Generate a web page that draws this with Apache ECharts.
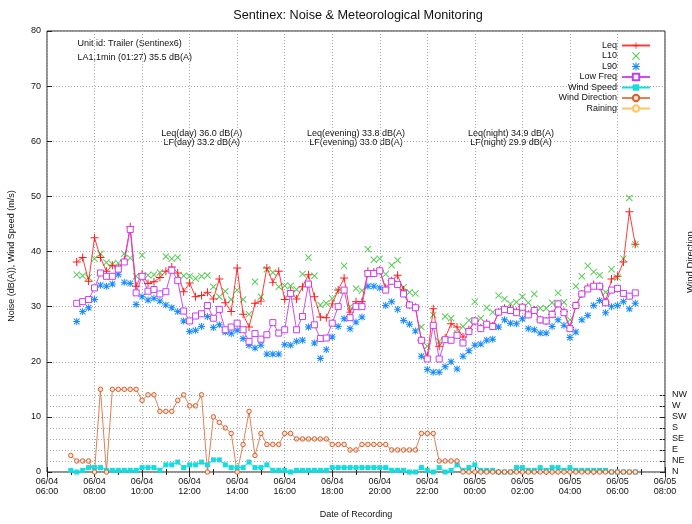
<!DOCTYPE html>
<html><head><meta charset="utf-8">
<script src="https://cdn.jsdelivr.net/npm/echarts@6/dist/echarts.min.js"></script>
<style>html,body{margin:0;padding:0;background:#fff}#c{width:692px;height:524px}</style>
</head><body><div id="c"></div>
<script>
// ---- time base (hours after 06/04 00:00) ----
const NOISE_START = 7.25;   // 06/04 07:15
const WIND_START = 7.0;     // 06/04 07:00
const STEP = 0.25;          // 15-minute records
const X_MIN = 6, X_MAX = 32, X_STEP = 2;

// ---- noise levels dB(A), 15-minute records ----
const leq = [38.1,38.9,34.6,42.5,38.9,36.4,37.5,37.0,38.4,44.5,
  33.7,35.9,34.2,34.5,35.3,36.4,37.2,36.1,32.7,34.3,
  31.8,32.0,32.6,31.4,35.0,30.7,29.1,37.0,28.6,26.3,
  30.6,31.0,37.0,34.4,36.4,31.3,32.9,31.4,33.6,35.8,
  31.8,28.1,28.0,30.5,33.0,35.2,29.0,30.9,30.9,36.4,
  36.3,36.6,33.4,34.7,35.7,33.0,30.3,29.9,23.9,20.8,
  29.6,22.8,24.3,26.9,26.3,24.5,25.8,27.4,26.1,27.0,
  26.5,29.0,29.7,29.6,29.1,30.0,28.6,29.4,27.6,27.4,
  28.6,30.5,29.1,26.2,30.2,32.3,33.5,34.0,33.7,30.8,
  35.0,35.5,38.1,47.2,41.3];
const l10 = [35.8,35.6,35.3,38.7,39.6,38.0,37.7,37.9,39.6,38.8,
  35.5,39.3,35.7,35.8,36.2,39.1,38.7,38.9,35.6,35.5,
  35.1,35.5,35.7,33.6,31.8,32.8,31.3,33.0,31.3,28.6,
  34.5,31.8,36.8,36.2,33.6,33.8,33.8,33.1,35.9,38.9,
  35.6,30.3,30.6,31.5,32.9,37.4,30.0,33.3,32.9,40.4,
  38.5,38.7,35.9,37.5,38.4,33.5,32.6,32.4,26.3,22.8,
  28.5,23.7,28.2,27.9,25.2,26.4,27.5,30.9,27.9,29.8,
  29.0,32.0,31.4,30.5,30.8,31.8,30.7,32.3,29.7,29.7,
  30.7,32.5,30.8,27.6,33.7,35.5,37.4,36.3,35.7,32.6,
  36.8,35.3,38.7,49.7,41.3];
const l90 = [27.3,29.1,29.8,31.3,33.9,33.7,34.1,35.8,34.4,34.2,
  30.4,31.8,31.2,31.5,31.0,30.3,29.8,29.1,27.4,25.5,
  25.7,26.4,28.2,26.2,26.7,25.4,25.1,25.7,24.2,23.0,
  22.5,23.0,21.4,21.4,21.4,23.1,23.0,23.7,23.9,26.3,
  23.4,20.6,22.2,24.5,26.4,27.8,26.0,27.2,28.1,33.7,
  33.7,33.4,30.2,30.9,29.5,27.5,26.8,25.6,21.0,18.6,
  18.1,18.1,19.1,20.0,18.7,21.0,22.0,23.0,23.2,23.9,
  24.1,26.3,27.6,27.0,26.9,27.8,26.0,25.8,25.2,25.2,
  26.4,27.6,26.6,24.4,25.4,27.6,28.4,30.2,31.1,28.9,
  30.0,30.2,30.9,29.6,30.6];
const lowFreq = [30.6,30.9,31.3,33.4,36.1,35.5,35.5,36.8,38.1,44.0,
  32.5,35.5,32.8,33.1,32.3,32.7,36.6,34.7,29.2,27.4,
  28.3,28.7,30.2,27.9,29.5,25.8,26.3,27.0,25.8,23.7,
  25.1,24.1,24.9,27.1,25.2,25.8,32.4,25.8,28.2,34.1,
  26.7,24.2,24.3,27.0,30.0,33.0,28.0,30.0,30.0,36.0,
  36.0,36.5,33.0,34.6,34.0,32.3,30.3,29.8,23.9,20.5,
  26.6,20.5,24.0,23.9,24.8,23.4,25.5,27.4,26.0,26.8,
  26.4,29.0,29.5,29.3,28.9,29.9,28.5,29.3,27.6,27.4,
  28.6,30.5,28.9,26.0,30.2,32.3,33.2,33.7,33.7,30.7,
  33.0,33.3,32.4,31.9,32.5];

// ---- meteorology ----
const windSpeed = [0.3,0,0.3,0.8,0.8,0.8,0.3,0.3,0.3,0.3,
  0.3,0.3,0.8,0.8,0.8,0.3,1.3,1.3,1.8,0.8,
  1.3,1.3,1.8,1.3,2.2,2.2,1.3,0.8,0.8,0.8,
  1.8,0.8,0.8,1.3,0.3,0.3,0.3,0,0.3,0.3,
  0.3,0.3,0.3,0.3,0.8,0.8,0.8,0.8,0.8,0.8,
  0.8,0.8,0.8,0.8,0.3,0.3,0.3,0,0,0.8,
  0.3,0,0.8,0,0.3,1.3,0.3,0.8,1.3,0.3,
  0.3,0.3,0,0,0,0.8,0.8,0.3,0.3,0.8,
  0.3,0.8,0.8,0.3,0.8,0.3,0.3,0.3,0.3,0.3,
  0.3,0,0,0,0,0];
// 16-point compass index (0 = N, 2 = NE, ... 14 = NW, 15 = NNW)
const windDir = [3,2,2,2,0,15,0,15,15,15,
  15,15,13,14,14,11,11,11,13,14,
  12,12,14,0,10,9,8,7,0,5,
  11,3,7,5,5,5,7,7,6,6,
  6,6,6,6,5,5,5,4,4,5,
  5,5,5,5,4,4,4,4,4,7,
  7,7,2,2,2,2,0,0,0,0,
  0,0,0,0,0,0,0,0,0,0,
  0,0,0,0,0,0,0,0,0,0,
  0,0,0,0,0,0];
const raining = [];
const dirLabels = ['N','NE','E','SE','S','SW','W','NW'];
const dirTicks = [0,2,4,6,8,10,12,14];

const FONT = '"Liberation Sans", Arial, sans-serif';
const TXT = '#111';
const GRIDC = '#a8a8a8';

function series(start, arr){ return arr.map((v,i)=>[start + i*STEP, v]); }
function pad(n){ return (n<10?'0':'')+n; }
function xLabel(h){ const d = 4 + Math.floor(h/24); const hh = h - 24*Math.floor(h/24); return '06/' + pad(d) + '\n' + pad(hh) + ':00'; }

const PLUS = 'path://M4.4,0H5.6V4.4H10V5.6H5.6V10H4.4V5.6H0V4.4H4.4Z';
const CROSS = 'path://M0,1L1,0L5,4L9,0L10,1L6,5L10,9L9,10L5,6L1,10L0,9L4,5Z';
const STAR = 'path://M4.3,0H5.7V4.3H10V5.7H5.7V10H4.3V5.7H0V4.3H4.3Z M0.5,1.5L1.5,0.5L5,4L8.5,0.5L9.5,1.5L6,5L9.5,8.5L8.5,9.5L5,6L1.5,9.5L0.5,8.5L4,5Z';

const C = {leq:'#ff1a1a', l10:'#55cc55', l90:'#1a8cff', lf:'#c83cf0', ws:'#14dce0', wd:'#d8602c', rain:'#ffc466'};

const chart = echarts.init(document.getElementById('c'), null, {renderer:'canvas'});
chart.setOption({
  animation: false,
  backgroundColor: '#fff',
  textStyle: {fontFamily: FONT},
  grid: {left: 47, right: 27, top: 31, bottom: 47, show: true, borderColor: '#222', borderWidth: 1, containLabel: false},
  legend: {
    orient: 'vertical', right: 36, top: 36, align: 'right', selectedMode: false,
    itemWidth: 28, itemHeight: 8, itemGap: 1.5, symbolKeepAspect: true,
    textStyle: {fontSize: 9, color: TXT, lineHeight: 8, fontFamily: FONT},
    data: ['Leq','L10','L90','Low Freq','Wind Speed','Wind Direction','Raining']
  },
  xAxis: [{
    type: 'value', min: X_MIN, max: X_MAX, interval: X_STEP, position: 'bottom',
    axisLine: {show: false},
    axisTick: {inside: true, length: 5, lineStyle: {color: '#222'}},
    minorTick: {show: true, splitNumber: 2, length: 3, lineStyle: {color: '#222'}},
    axisLabel: {formatter: xLabel, fontSize: 9, color: TXT, lineHeight: 10, margin: 5, fontFamily: FONT},
    splitLine: {show: true, lineStyle: {type: [1,2], color: GRIDC, width: 1}},
    name: 'Date of Recording', nameLocation: 'middle', nameGap: 38,
    nameTextStyle: {fontSize: 9, color: TXT, fontFamily: FONT}
  },{
    type: 'value', min: X_MIN, max: X_MAX, interval: X_STEP, position: 'top',
    axisLine: {show: false}, axisLabel: {show: false}, splitLine: {show: false},
    axisTick: {inside: true, length: 5, lineStyle: {color: '#222'}},
    minorTick: {show: true, splitNumber: 2, length: 3, lineStyle: {color: '#222'}}
  }],
  yAxis: [{
    type: 'value', min: 0, max: 80, interval: 10, position: 'left',
    axisLine: {show: false},
    axisTick: {inside: true, length: 5, lineStyle: {color: '#222'}},
    axisLabel: {fontSize: 9, color: TXT, margin: 6, fontFamily: FONT},
    splitLine: {show: true, lineStyle: {type: [1,2], color: GRIDC, width: 1}}
  },{
    type: 'value', min: 0, max: 80, interval: 2, position: 'right',
    axisLine: {show: false},
    axisTick: {inside: true, length: 5, customValues: dirTicks, lineStyle: {color: '#222'}},
    axisLabel: {customValues: dirTicks, formatter: v => dirLabels[Math.round(v/2)] || '', fontSize: 9, color: TXT, margin: 7, fontFamily: FONT},
    splitLine: {show: false}
  }],
  graphic: [
    {type:'text', x: 358, y: 15, style:{text:'Sentinex: Noise & Meteorological Monitoring', fontSize: 12.7, fontFamily: FONT, fill: TXT, align:'center', verticalAlign:'middle'}},
    {type:'text', x: 77.5, y: 44, style:{text:'Unit id: Trailer (Sentinex6)', fontSize: 9, fontFamily: FONT, fill: TXT, align:'left', verticalAlign:'middle'}},
    {type:'text', x: 77.5, y: 58, style:{text:'LA1,1min (01:27) 35.5 dB(A)', fontSize: 9, fontFamily: FONT, fill: TXT, align:'left', verticalAlign:'middle'}},
    {type:'text', x: 201.7, y: 133.5, style:{text:'Leq(day) 36.0 dB(A)', fontSize: 9, fontFamily: FONT, fill: TXT, align:'center', verticalAlign:'middle'}},
    {type:'text', x: 201.7, y: 143, style:{text:'LF(day) 33.2 dB(A)', fontSize: 9, fontFamily: FONT, fill: TXT, align:'center', verticalAlign:'middle'}},
    {type:'text', x: 356, y: 133.5, style:{text:'Leq(evening) 33.8 dB(A)', fontSize: 9, fontFamily: FONT, fill: TXT, align:'center', verticalAlign:'middle'}},
    {type:'text', x: 356, y: 143, style:{text:'LF(evening) 33.0 dB(A)', fontSize: 9, fontFamily: FONT, fill: TXT, align:'center', verticalAlign:'middle'}},
    {type:'text', x: 511, y: 133.5, style:{text:'Leq(night) 34.9 dB(A)', fontSize: 9, fontFamily: FONT, fill: TXT, align:'center', verticalAlign:'middle'}},
    {type:'text', x: 511, y: 143, style:{text:'LF(night) 29.9 dB(A)', fontSize: 9, fontFamily: FONT, fill: TXT, align:'center', verticalAlign:'middle'}},
    {type:'text', x: 12, y: 256, rotation: Math.PI/2, style:{text:'Noise (dB(A)), Wind Speed (m/s)', fontSize: 9, fontFamily: FONT, fill: TXT, align:'center', verticalAlign:'middle'}},
    {type:'text', x: 690, y: 262, rotation: Math.PI/2, style:{text:'Wind Direction', fontSize: 9.5, fontFamily: FONT, fill: TXT, align:'center', verticalAlign:'middle'}}
  ],
  series: [
    {name:'Leq', type:'line', silent: true, data: series(NOISE_START, leq), symbol: PLUS, symbolSize: 8,
     itemStyle:{color: C.leq}, lineStyle:{color: C.leq, width: 1, opacity: 0.85}, emphasis:{disabled:true}},
    {name:'L10', type:'scatter', silent: true, data: series(NOISE_START, l10), symbol: CROSS, symbolSize: 7,
     itemStyle:{color: C.l10, opacity: 1}, emphasis:{disabled:true}},
    {name:'L90', type:'scatter', silent: true, data: series(NOISE_START, l90), symbol: STAR, symbolSize: 7,
     itemStyle:{color: C.l90, opacity: 1}, emphasis:{disabled:true}},
    {name:'Low Freq', type:'line', silent: true, data: series(NOISE_START, lowFreq), symbol: 'rect', symbolSize: 6,
     itemStyle:{color: '#fff', borderColor: C.lf, borderWidth: 1}, lineStyle:{color: C.lf, width: 1, opacity: 0.9}, emphasis:{disabled:true}},
    {name:'Wind Speed', type:'line', silent: true, data: series(WIND_START, windSpeed), symbol: 'rect', symbolSize: 5,
     itemStyle:{color: C.ws}, lineStyle:{color: C.ws, width: 1}, emphasis:{disabled:true}},
    {name:'Wind Direction', type:'line', silent: true, yAxisIndex: 1, data: series(WIND_START, windDir), symbol: 'circle', symbolSize: 4.5,
     itemStyle:{color: '#fbe3d6', borderColor: C.wd, borderWidth: 1}, lineStyle:{color: C.wd, width: 1, opacity: 0.8}, emphasis:{disabled:true},
     markLine:{silent: true, symbol:['none','none'], label:{show:false}, animation:false,
       lineStyle:{type:[1,2], color: GRIDC, width: 1}, emphasis:{disabled:true},
       data: dirTicks.filter(v => v > 0 && v !== 10).map(v => ({yAxis: v}))}},
    {name:'Raining', type:'line', silent: true, yAxisIndex: 0, data: raining, symbol: 'circle', symbolSize: 4.5,
     itemStyle:{color: '#fff3dc', borderColor: C.rain, borderWidth: 1}, lineStyle:{color: C.rain, width: 2}}
  ]
});
</script></body></html>
